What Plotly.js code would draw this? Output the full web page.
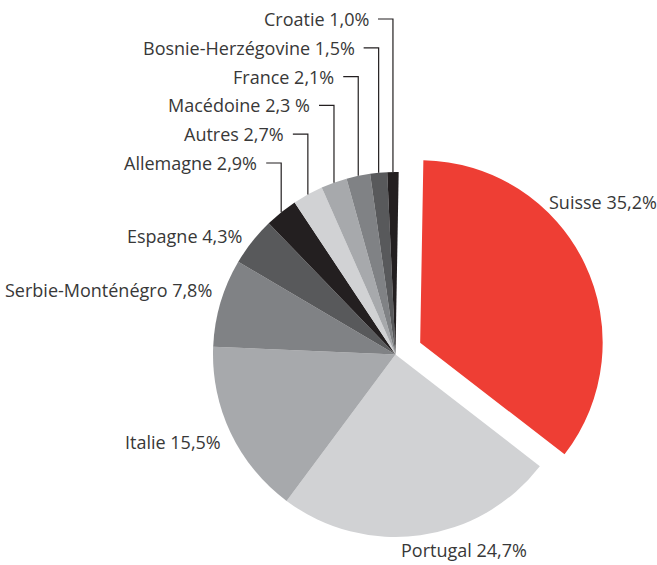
<!DOCTYPE html>
<html><head><meta charset="utf-8">
<script src="https://cdn.plot.ly/plotly-3.0.1.min.js"></script>
<style>html,body{margin:0;padding:0;background:#fff}</style>
</head><body><div id="chart" style="width:657px;height:565px"></div>
<script>
const countries = ['Suisse','Portugal','Italie','Serbie-Monténégro','Espagne','Allemagne','Autres','Macédoine','France','Bosnie-Herzégovine','Croatie'];
const shares = [35.2,24.7,15.5,7.8,4.3,2.9,2.7,2.3,2.1,1.5,1.0];
const shareLabels = ['35,2%','24,7%','15,5%','7,8%','4,3%','2,9%','2,7%','2,3 %','2,1%','1,5%','1,0%'];
const colors = ['#ee3e34','#d1d2d4','#a7a9ac','#808285','#58595b','#231f20','#d1d2d4','#a7a9ac','#808285','#58595b','#231f20'];
const pulls = [0.15,0,0,0,0,0,0,0,0,0,0];

// layout geometry (pixels)
const W = 657, H = 565;
const CX = 395.5, CY = 354.5, R = 182.5, PULL = 0.15, ROT = 1;
const half = R * (1 + PULL);
const px = x => x / W;
const py = y => 1 - y / H;

// free label positions for large slices: [x, y, anchor]
const freePos = {
  0: [548, 202, 'left'],
  1: [400, 550, 'left'],
  2: [222, 442, 'right'],
  3: [213, 290, 'right'],
  4: [243, 236, 'right']
};
const calloutTop = 19, calloutStep = 28.8;
const FONT = {family: 'Open Sans, Noto Sans, sans-serif', size: 18, color: '#383838'};

const total = shares.reduce((a, b) => a + b, 0);
const annotations = [], shapes = [];
let cum = 0;
shares.forEach((v, i) => {
  const mid = (cum + v / 2) / total * 2 * Math.PI + ROT * Math.PI / 180;
  cum += v;
  const text = countries[i] + ' ' + shareLabels[i];
  if (freePos[i]) {
    const [x, y, anc] = freePos[i];
    annotations.push({xref: 'paper', yref: 'paper', x: px(x), y: py(y), text, showarrow: false,
      xanchor: anc, yanchor: 'middle', font: FONT, borderpad: 0});
  } else {
    const ax = CX + R * Math.sin(mid);
    const ay = CY - R * Math.cos(mid);
    const ty = calloutTop + calloutStep * (shares.length - 1 - i);
    const start = ax - 15;
    shapes.push({type: 'path', xref: 'paper', yref: 'paper',
      path: `M ${px(start)} ${py(ty)} H ${px(ax)} V ${py(ay)}`,
      line: {color: '#231f20', width: 1.2}});
    annotations.push({xref: 'paper', yref: 'paper', x: px(start - 8), y: py(ty), text, showarrow: false,
      xanchor: 'right', yanchor: 'middle', font: FONT, borderpad: 0});
  }
});

const data = [{
  type: 'pie', labels: countries, values: shares, sort: false, direction: 'clockwise', rotation: ROT,
  pull: pulls, marker: {colors: colors, line: {width: 0}}, textinfo: 'none', hoverinfo: 'skip',
  showlegend: false,
  domain: {x: [(CX - half) / W, (CX + half) / W], y: [(H - CY - half) / H, (H - CY + half) / H]}
}];

const layout = {width: W, height: H, margin: {l: 0, r: 0, t: 0, b: 0}, paper_bgcolor: '#fff',
  showlegend: false, annotations, shapes};
Plotly.newPlot('chart', data, layout, {staticPlot: true});
</script></body></html>
